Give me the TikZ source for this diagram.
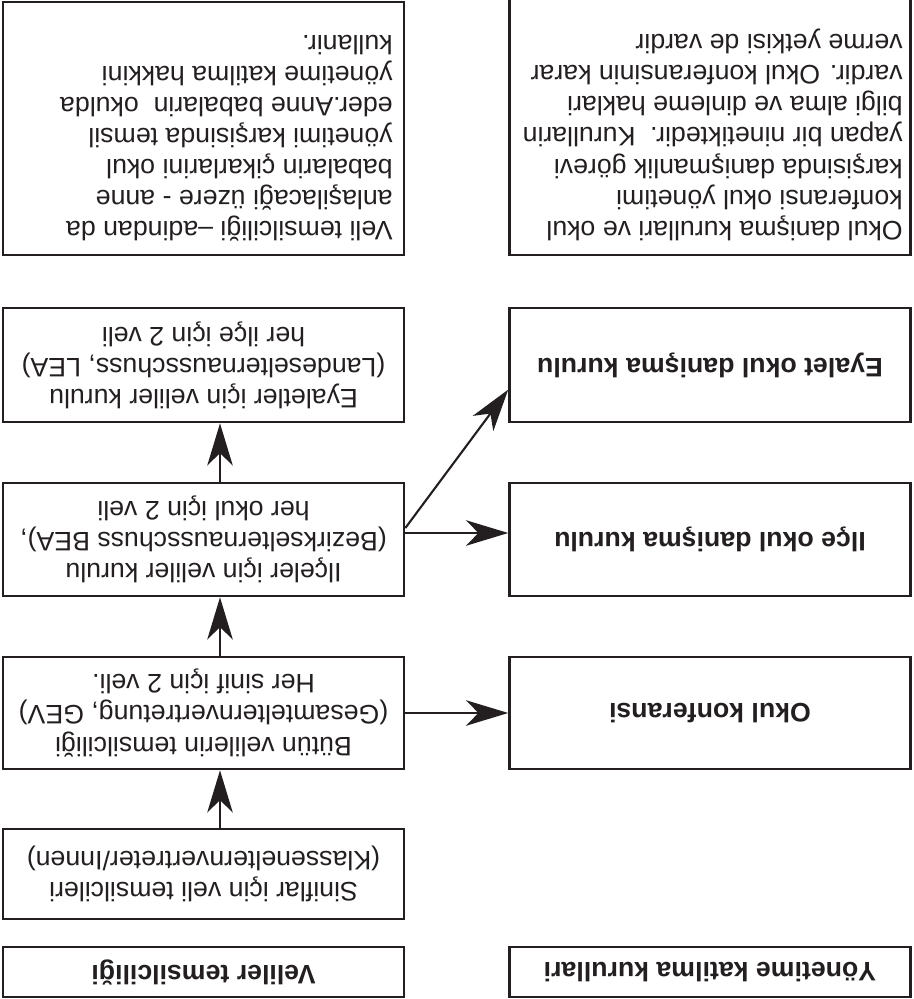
\documentclass[tikz,border=0pt]{standalone}
\usepackage{fontspec}
\setmainfont{Liberation Sans}
\usetikzlibrary{arrows.meta,calc}
\definecolor{ink}{HTML}{231F20}
\begin{document}
\begin{tikzpicture}[x=0.02cm,y=-0.02cm,
  boxc/.style={draw=ink, line width=1.5pt, rectangle, inner sep=0pt, minimum width=8.02cm},
  txt/.style={font=\fontsize{15.2}{17.7}\selectfont, text=ink, rotate=180, inner sep=0pt, align=center},
  txtl/.style={txt, align=left, anchor=north west},
  bold/.style={txt, font=\fontsize{15.2}{17.7}\selectfont\bfseries},
  conn/.style={draw=ink, line width=1.2pt, -{Stealth[length=24pt, width=14.5pt, inset=7pt]}}
]
\useasboundingbox (0,0) rectangle (913,999);

% boxes
\node[boxc, minimum height=5.06cm] (tl) at (203.5,128.5) {};
\node[boxc, minimum height=5.2cm] (tr) at (710,125) {};
\node[boxc, minimum height=2.28cm] (eyal) at (203.5,365) {};
\node[boxc, minimum height=2.28cm] (eyokul) at (710,365) {};
\node[boxc, minimum height=2.26cm] (ilce) at (203.5,539.5) {};
\node[boxc, minimum height=2.26cm] (ilceokul) at (710,539.5) {};
\node[boxc, minimum height=2.24cm] (butun) at (203.5,713) {};
\node[boxc, minimum height=2.24cm] (okulk) at (710,713) {};
\node[boxc, minimum height=1.8cm] (sinif) at (203.5,874) {};
\node[boxc, minimum height=1.0cm] (veliler) at (203.5,972) {};
\node[boxc, minimum height=1.0cm] (yonetim) at (710,972) {};

% texts
\node[txtl] (tl-t) at (393,242) {Veli temsilciliği –adindan da\\anlaşilacaği üzere - anne\\babalarin çikarlarini okul\\yönetimi karşisinda temsil\\eder.Anne babalarin\ \ okulda\\yönetime katilma hakkini\\kullanir.};
\node[txtl] (tr-t) at (903,241) {Okul danişma kurullari ve okul\\konferansi okul yönetimi\\karşisinda danişmanlik görevi\\yapan bir ninetiktedir.\ \ Kurullarin\\bilgi alma ve dinleme haklari\\vardir. Okul konferansinin karar\\verme yetkisi de vardir};
\node[txt] (eyal-t) at (eyal) {Eyaletler için veliler kurulu\\(Landeselternausschuss, LEA)\\her ilçe için 2 veli};
\node[txt] (ilce-t) at (ilce) {Ilçeler için veliler kurulu\\(Bezirkselternausschuss BEA),\\her okul için 2 veli};
\node[txt] (butun-t) at (butun) {Bütün velilerin temsilciliği\\(Gesamtelternvertretung, GEV)\\Her sinif için 2 veli.};
\node[txt] (sinif-t) at (sinif) {Siniflar için veli temsilcileri\\(Klassenelternvertreter/Innen)};
\node[bold] (veliler-t) at (veliler) {Veliler temsilciliği};
\node[bold] (yonetim-t) at (yonetim) {Yönetime katilma kurullari};
\node[bold] (okulk-t) at (okulk) {Okul konferansi};
\node[bold] (ilceokul-t) at (ilceokul) {Ilçe okul danişma kurulu};
\node[bold] (eyokul-t) at (eyokul) {Eyalet okul danişma kurulu};

% connectors
\coordinate (ax) at (220,0);
\draw[conn] (sinif.north -| ax) -- (butun.south -| ax);
\draw[conn] (butun.north -| ax) -- (ilce.south -| ax);
\draw[conn] (ilce.north -| ax) -- (eyal.south -| ax);
\draw[conn] (butun.east) -- (okulk.west);
\draw[conn] ([yshift=3.7pt]ilce.east) -- ([yshift=3.7pt]ilceokul.west);
\draw[conn] ([yshift=6.5pt]ilce.east) -- ([yshift=-14pt]eyokul.west);
\end{tikzpicture}
\end{document}
